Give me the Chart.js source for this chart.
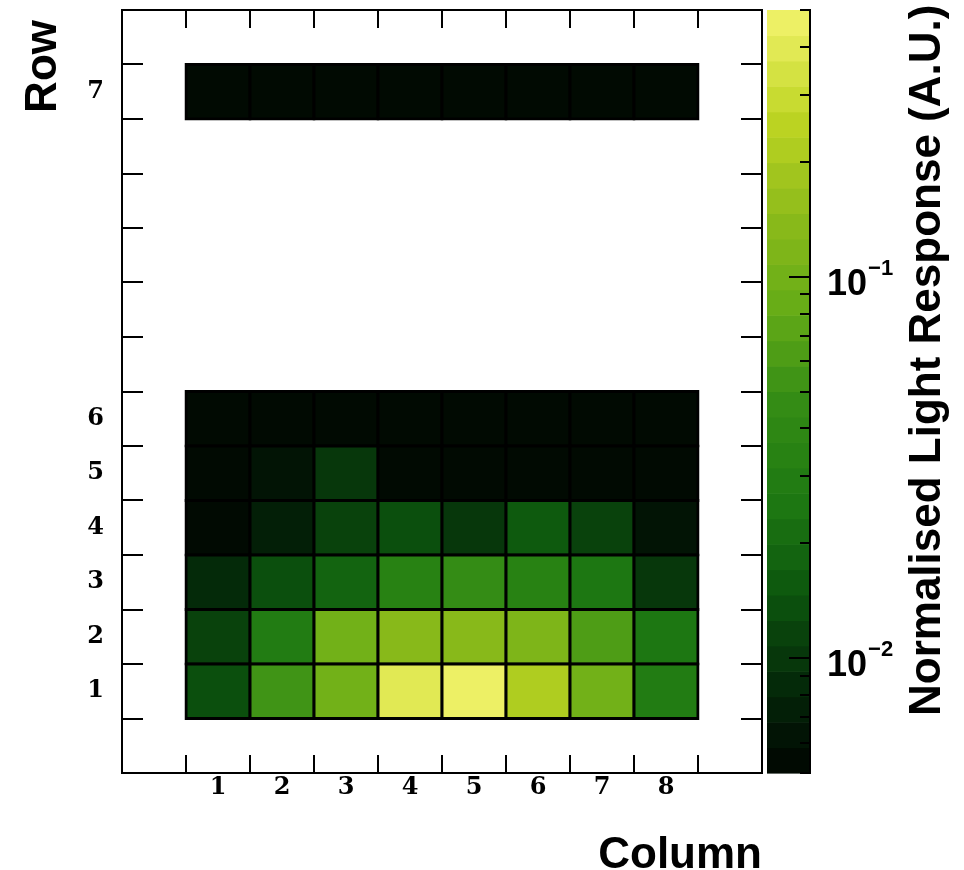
<!DOCTYPE html>
<html>
<head>
<meta charset="utf-8">
<script src="https://cdn.jsdelivr.net/npm/chart.js@4.4.0/dist/chart.umd.min.js"></script>
<style>
  html, body { margin: 0; padding: 0; background: #ffffff; }
  #wrap { width: 964px; height: 870px; position: relative; }
</style>
</head>
<body>
<div id="wrap"><canvas id="c" width="964" height="870"></canvas></div>
<script>
// ---- data -------------------------------------------------------------
const columns   = ['1', '2', '3', '4', '5', '6', '7', '8'];
const rowLabels = ['1', '2', '3', '4', '5', '6', '7'];
// lower edge of each row on the Row axis (row 7 sits apart from the block)
const rowSlots  = [0, 1, 2, 3, 4, 5, 11];

// normalised light response per cell, column 1..8
const row1 = [0.0135, 0.053, 0.098, 0.40, 0.47, 0.21, 0.096, 0.029];
const row2 = [0.0116, 0.028, 0.100, 0.135, 0.138, 0.117, 0.062, 0.025];
const row3 = [0.0085, 0.0135, 0.018, 0.033, 0.045, 0.032, 0.024, 0.0099];
const row4 = [0.0054, 0.0073, 0.0115, 0.0138, 0.0098, 0.0158, 0.0118, 0.0063];
const row5 = [0.0053, 0.0062, 0.0100, 0.0055, 0.0054, 0.0055, 0.0054, 0.0055];
const row6 = [0.0055, 0.0054, 0.0056, 0.0053, 0.0055, 0.0056, 0.0054, 0.0057];
const row7 = [0.0054, 0.0055, 0.0054, 0.0053, 0.0054, 0.0054, 0.0055, 0.0054];
const rows = [row1, row2, row3, row4, row5, row6, row7];

// colour scale range and its labelled decades
const zMin = 0.005, zMax = 0.5;
const zMajorTicks = [0.01, 0.1];
const zMajorLabels = ['\u22122', '\u22121'];
const nContours = 30;

// ---- colour map (dark green -> yellow), 255-step gradient ---------------
const stops = [
  [0, 0, 0], [4, 40, 9], [12, 86, 14], [30, 121, 18], [52, 140, 21],
  [101, 172, 23], [142, 187, 27], [190, 213, 35], [237, 240, 101]
];
const nColors = 255;
function paletteAt(t) {
  const s = Math.min(Math.max(t, 0), 1) * (stops.length - 1);
  const i = Math.min(Math.floor(s), stops.length - 2);
  const f = s - i;
  const c = stops[i].map((v, k) => Math.round(v + (stops[i + 1][k] - v) * f));
  return `rgb(${c[0]},${c[1]},${c[2]})`;
}
function contourColor(k) {
  const idx = Math.min(Math.floor((k + 0.99) * nColors / nContours), nColors - 1);
  return paletteAt(idx / (nColors - 1));
}
function contourOf(v) {
  const k = Math.floor(nContours * Math.log(v / zMin) / Math.log(zMax / zMin));
  return Math.min(Math.max(k, 0), nContours - 1);
}
function colorFor(v) { return contourColor(contourOf(v)); }

// ---- datasets: one floating-bar series per row -------------------------
const datasets = rows.map((vals, r) => ({
  label: 'Row ' + rowLabels[r],
  data: vals.map((v, c) => ({ x: c + 0.5, y: [rowSlots[r], rowSlots[r] + 1] })),
  backgroundColor: vals.map(colorFor),
  borderColor: '#000000',
  borderWidth: 3,
  borderSkipped: false,
  inflateAmount: 1.5,
  grouped: false,
  barPercentage: 1,
  categoryPercentage: 1
}));

const tickFont = { family: "'DejaVu Serif', serif", weight: 'bold', size: 24 };
const titleFont = "bold 44px 'Liberation Sans', Arial, sans-serif";

// frame, inner tick marks, colour bar and axis titles
const decorations = {
  id: 'decorations',
  afterDatasetsDraw(chart) {
    const { ctx, chartArea: a, scales } = chart;
    const xs = scales.x, ys = scales.y, zs = scales.z;
    ctx.save();
    ctx.strokeStyle = '#000';
    ctx.lineWidth = 2;
    ctx.strokeRect(a.left, a.top, a.right - a.left, a.bottom - a.top);

    ctx.beginPath();
    for (let i = 0; i <= columns.length; i++) {
      const px = Math.round(xs.getPixelForValue(i));
      ctx.moveTo(px, a.bottom); ctx.lineTo(px, a.bottom - 18);
      ctx.moveTo(px, a.top); ctx.lineTo(px, a.top + 18);
    }
    const yTop = rowSlots[rowSlots.length - 1] + 1;
    for (let j = 0; j <= yTop; j++) {
      const py = Math.round(ys.getPixelForValue(j));
      ctx.moveTo(a.left, py); ctx.lineTo(a.left + 21, py);
      ctx.moveTo(a.right, py); ctx.lineTo(a.right - 21, py);
    }
    ctx.stroke();

    // colour bar
    const cbL = a.right + 5, cbR = a.right + 47;
    for (let k = 0; k < nContours; k++) {
      const lo = zMin * Math.pow(zMax / zMin, k / nContours);
      const hi = zMin * Math.pow(zMax / zMin, (k + 1) / nContours);
      const y0 = zs.getPixelForValue(lo), y1 = zs.getPixelForValue(hi);
      ctx.fillStyle = contourColor(k);
      ctx.fillRect(cbL, y1, cbR - cbL, y0 - y1 + 0.6);
    }
    ctx.beginPath();
    ctx.moveTo(cbR + 1, a.top - 1); ctx.lineTo(cbR + 1, a.bottom + 1);
    const minor = [];
    for (let d = -3; d <= 0; d++) {
      for (let m = 1; m <= 9; m++) {
        const v = m * Math.pow(10, d);
        if (v >= zMin * 0.999 && v <= zMax * 1.001) minor.push(v);
      }
    }
    minor.forEach(v => {
      const py = Math.round(zs.getPixelForValue(v));
      const major = zMajorTicks.some(t => Math.abs(t - v) < 1e-9);
      ctx.moveTo(cbR + 1, py); ctx.lineTo(cbR + 1 - (major ? 21 : 10), py);
    });
    ctx.stroke();

    // colour bar labels 10^-2, 10^-1
    ctx.fillStyle = '#000';
    ctx.textAlign = 'left';
    ctx.textBaseline = 'alphabetic';
    zMajorTicks.forEach((t, i) => {
      const py = zs.getPixelForValue(t);
      ctx.font = "bold 36px 'Liberation Sans', Arial, sans-serif";
      ctx.fillText('10', a.right + 65, py + 18);
      const w = ctx.measureText('10').width;
      ctx.font = "bold 22px 'Liberation Sans', Arial, sans-serif";
      ctx.fillText(zMajorLabels[i], a.right + 66 + w, py - 2);
    });

    // axis titles
    ctx.font = titleFont;
    ctx.textAlign = 'right';
    ctx.fillText('Column', a.right, 868);

    ctx.save();
    ctx.translate(56, 20);
    ctx.rotate(-Math.PI / 2);
    ctx.textAlign = 'right';
    ctx.fillText('Row', 0, 0);
    ctx.restore();

    ctx.save();
    ctx.translate(940, 716);
    ctx.rotate(-Math.PI / 2);
    ctx.textAlign = 'left';
    ctx.fillText('Normalised Light Response (A.U.)', 0, 0);
    ctx.restore();

    ctx.restore();
  }
};

new Chart(document.getElementById('c'), {
  type: 'bar',
  data: { datasets },
  options: {
    responsive: false,
    animation: false,
    layout: { padding: { top: 10, right: 0, bottom: 0, left: 0 } },
    plugins: { legend: { display: false }, tooltip: { enabled: false } },
    scales: {
      x: {
        type: 'linear', min: -1, max: columns.length + 1, offset: false,
        grid: { display: false, drawTicks: false }, border: { display: false },
        afterBuildTicks: s => { s.ticks = columns.map((c, i) => ({ value: i + 0.5 })); },
        ticks: {
          autoSkip: false, maxRotation: 0, padding: 0, color: '#000', font: tickFont,
          callback: v => columns[Math.floor(v)]
        },
        afterFit: s => { s.height = 97; s.paddingLeft = 0; s.paddingRight = 0; }
      },
      y: {
        type: 'linear', min: -1, max: rowSlots[rowSlots.length - 1] + 2,
        grid: { display: false, drawTicks: false }, border: { display: false },
        afterBuildTicks: s => { s.ticks = rowSlots.map(b => ({ value: b + 0.5 })); },
        ticks: {
          autoSkip: false, padding: 18, color: '#000', font: tickFont,
          callback: v => rowLabels[rowSlots.indexOf(Math.floor(v))]
        },
        afterFit: s => { s.width = 122; s.paddingTop = 0; s.paddingBottom = 0; }
      },
      z: {
        type: 'logarithmic', position: 'right', min: zMin, max: zMax,
        grid: { display: false, drawTicks: false }, border: { display: false },
        ticks: { display: false },
        afterFit: s => { s.width = 202; s.paddingTop = 0; s.paddingBottom = 0; }
      }
    }
  },
  plugins: [decorations]
});
</script>
</body>
</html>
